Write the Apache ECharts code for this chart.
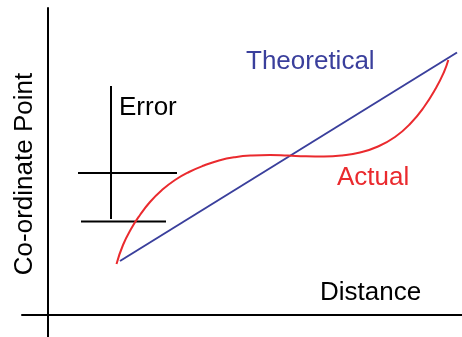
<!DOCTYPE html>
<html>
<head>
<meta charset="utf-8">
<script src="https://cdn.jsdelivr.net/npm/echarts@6/dist/echarts.min.js"></script>
<style>
  html, body { margin: 0; padding: 0; background: #fff; }
  #main { width: 462px; height: 337px; }
</style>
</head>
<body>
<div id="main"></div>
<script>
// distance / coordinate values (origin where the axes cross)
var theoretical = [[72, 54], [409, 262.5]];
var actual = [
    [68.5, 51], [75, 70], [83, 86], [92, 100], [102, 113], [114, 125],
    [127, 135], [141, 143], [156, 149.5], [171, 154.5], [187, 157.8],
    [204, 159.5], [222, 160], [240, 159.4], [258, 158.7], [276, 158.6],
    [294, 159.6], [312, 162.5], [330, 168.5], [347, 178], [362, 191],
    [376, 208], [388, 227], [396, 243], [400.3, 255]
];
// error marker: one vertical stroke and two horizontal bars
var errorStem = [[63, 229], [63, 96]];
var errorTop = [[30, 142], [129, 142]];
var errorBottom = [[33, 93.5], [118, 93.5]];

var xRange = [-26, 414];
var yRange = [-22, 307];

var myChart = echarts.init(document.getElementById('main'));

function blackLine(data) {
    return {
        type: 'line',
        data: data,
        symbol: 'none',
        silent: true,
        lineStyle: { color: '#000', width: 2 }
    };
}

var option = {
    animation: false,
    grid: { left: 22, right: 0, top: 8, bottom: 0 },
    xAxis: {
        type: 'value',
        min: xRange[0],
        max: xRange[1],
        axisLine: { show: true, onZero: true, lineStyle: { color: '#000', width: 2 } },
        axisTick: { show: false },
        axisLabel: { show: false },
        splitLine: { show: false }
    },
    yAxis: {
        type: 'value',
        min: yRange[0],
        max: yRange[1],
        axisLine: { show: true, onZero: true, lineStyle: { color: '#000', width: 2 } },
        axisTick: { show: false },
        axisLabel: { show: false },
        splitLine: { show: false }
    },
    graphic: [
        {
            type: 'text', x: 25, y: 174, rotation: Math.PI / 2,
            style: { text: 'Co-ordinate Point', font: '26px "Liberation Sans", Arial, sans-serif',
                     fill: '#000', align: 'center', verticalAlign: 'middle' }
        },
        {
            type: 'text', x: 320, y: 293,
            style: { text: 'Distance', font: '26px "Liberation Sans", Arial, sans-serif',
                     fill: '#000', align: 'left', verticalAlign: 'middle' }
        },
        {
            type: 'text', x: 119, y: 107.5,
            style: { text: 'Error', font: '26px "Liberation Sans", Arial, sans-serif',
                     fill: '#000', align: 'left', verticalAlign: 'middle' }
        },
        {
            type: 'text', x: 246, y: 62,
            style: { text: 'Theoretical', font: '26px "Liberation Sans", Arial, sans-serif',
                     fill: '#3a3f9c', align: 'left', verticalAlign: 'middle' }
        },
        {
            type: 'text', x: 337, y: 178,
            style: { text: 'Actual', font: '26px "Liberation Sans", Arial, sans-serif',
                     fill: '#ea2a2e', align: 'left', verticalAlign: 'middle' }
        }
    ],
    series: [
        blackLine(errorStem),
        blackLine(errorTop),
        blackLine(errorBottom),
        {
            name: 'Theoretical',
            type: 'line',
            data: theoretical,
            symbol: 'none',
            lineStyle: { color: '#3a3f9c', width: 2 }
        },
        {
            name: 'Actual',
            type: 'line',
            data: actual,
            symbol: 'none',
            smooth: 0.5,
            lineStyle: { color: '#ea2a2e', width: 2 }
        }
    ]
};

myChart.setOption(option);
</script>
</body>
</html>
